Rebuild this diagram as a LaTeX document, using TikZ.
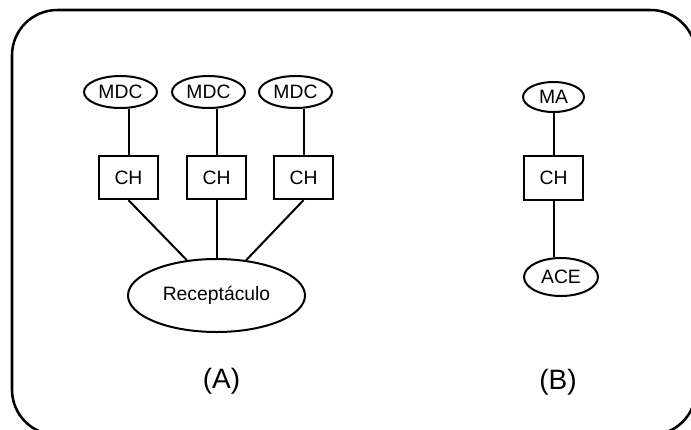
\documentclass[tikz,border=0pt]{standalone}
\usepackage{fontspec}
\setmainfont{Liberation Sans}
\usepackage{tikz}
\usetikzlibrary{shapes.geometric,positioning}

\begin{document}
\begin{tikzpicture}[
  x=0.75pt, y=-0.75pt,
  font=\fontsize{14.5}{17}\selectfont,
  frame/.style={draw=black, line width=1.9pt, rounded corners=34pt},
  oval/.style={draw=black, line width=1.5pt, ellipse, inner sep=0pt},
  box/.style={draw=black, line width=1.5pt, rectangle, inner sep=0pt,
    minimum width=44.5pt, minimum height=32.5pt},
  link/.style={black, line width=1.5pt},
  lbl/.style={font=\fontsize{21}{25}\selectfont},
]
\useasboundingbox (0,0) rectangle (691,429);
\begin{scope}
\clip (0,0) rectangle (691,429);
\draw[frame] (12,10) rectangle (696,435);
\end{scope}
% (A): three MDC feeding one receptacle
\foreach \i/\x in {1/128.5,2/216.5,3/303.5} {
  \node[box] (ch\i) at (\x,177.5) {CH};
  \node[oval, minimum width=54.75pt, minimum height=24pt] (mdc\i) at (\x-8,92) {MDC};
  \draw[link] (mdc\i.south -| ch\i.north) -- (ch\i.north);
}
\node[oval, minimum width=132.75pt, minimum height=54.75pt] (rec) at (216.5,295.5) {Receptáculo};
\draw[link] (ch1.south) -- (rec.130);
\draw[link] (ch2.south) -- (rec.north);
\draw[link] (ch3.south) -- (rec.50);
\node[lbl] (labA) at (221.5,381) {(A)};
% (B): single chain
\node[oval, minimum width=45.75pt, minimum height=22.5pt] (ma) at (553.5,97) {MA};
\node[box] (chb) at (553.5,178) {CH};
\node[oval, minimum width=55.5pt, minimum height=28.5pt] (ace) at (561,277) {ACE};
\draw[link] (ma.south -| chb.north) -- (chb.north);
\draw[link] (chb.south) -- (chb.south |- ace.north);
\node[lbl] (labB) at (558,382) {(B)};
\end{tikzpicture}
\end{document}
